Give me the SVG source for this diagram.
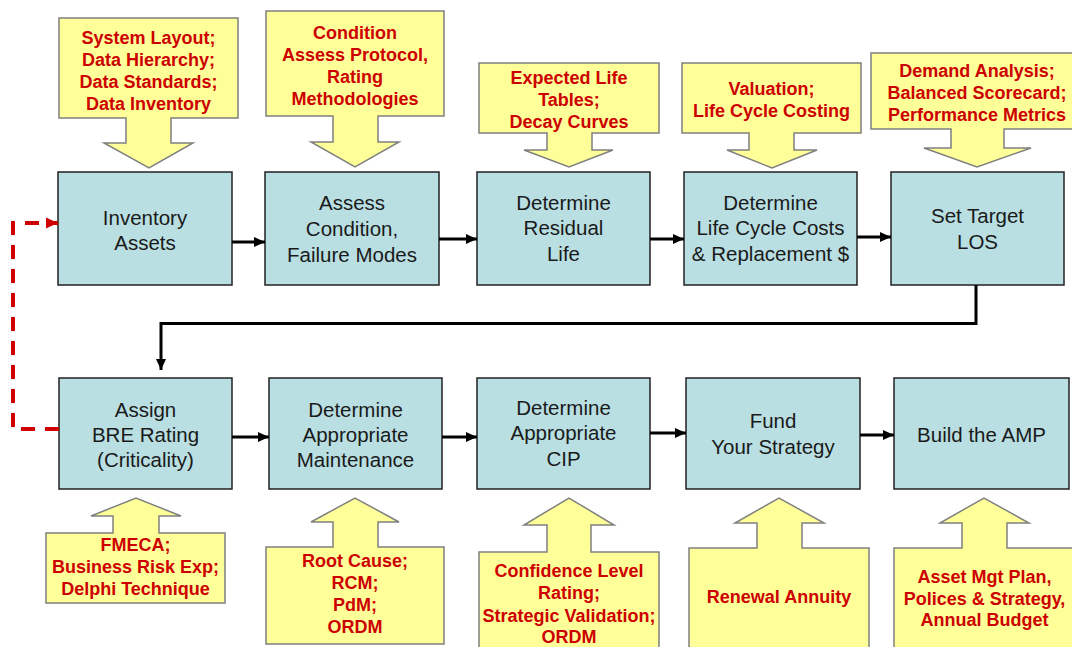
<svg xmlns="http://www.w3.org/2000/svg" width="1072" height="647" viewBox="0 0 1072 647">
<defs>
<style>
.step{fill:#B9DFE2;stroke:#222;stroke-width:1.5}
.inp{fill:#FFFF99;stroke:#808080;stroke-width:1.5}
.st{font-family:"Liberation Sans",Arial,sans-serif;font-size:20.5px;fill:#1a1a1a;text-anchor:middle}
.it{font-family:"Liberation Sans",Arial,sans-serif;font-size:18px;font-weight:bold;fill:#CC0000;text-anchor:middle}
.flow{fill:none;stroke:#000;stroke-width:3}
.loop{fill:none;stroke:#D00000;stroke-width:4;stroke-dasharray:14 10}
</style>
<marker id="ah" markerUnits="userSpaceOnUse" markerWidth="12" markerHeight="12" refX="11" refY="6" orient="auto">
<path d="M0,1 L11,6 L0,11 Z" fill="#000"/>
</marker>
<marker id="ahr" markerUnits="userSpaceOnUse" markerWidth="13" markerHeight="13" refX="12" refY="6.5" orient="auto">
<path d="M0,1 L12,6.5 L0,12 Z" fill="#D00000"/>
</marker>
</defs>
<rect width="1072" height="647" fill="#fff"/>

<!-- input callouts (top) -->
<g id="in1"><path class="inp" d="M59,18 H238 V118 H171 V143 H193 L149,168 L104,143 H126 V118 H59 Z"/>
<text class="it" x="148.5" y="44">System Layout;</text><text class="it" x="148.5" y="66">Data Hierarchy;</text><text class="it" x="148.5" y="88">Data Standards;</text><text class="it" x="148.5" y="110">Data Inventory</text></g>
<g id="in2"><path class="inp" d="M266,11 H444 V116 H378 V142 H399 L355,167 L311,142 H333 V116 H266 Z"/>
<text class="it" x="355" y="39">Condition</text><text class="it" x="355" y="61">Assess Protocol,</text><text class="it" x="355" y="83">Rating</text><text class="it" x="355" y="105">Methodologies</text></g>
<g id="in3"><path class="inp" d="M479,63 H659 V133 H592 V150 H613 L569,167 L524,150 H547 V133 H479 Z"/>
<text class="it" x="569" y="84">Expected Life</text><text class="it" x="569" y="106">Tables;</text><text class="it" x="569" y="128">Decay Curves</text></g>
<g id="in4"><path class="inp" d="M682,63 H861 V133 H794 V150 H817 L772,168 L727,150 H749 V133 H682 Z"/>
<text class="it" x="771.5" y="95">Valuation;</text><text class="it" x="771.5" y="117">Life Cycle Costing</text></g>
<g id="in5"><path class="inp" d="M871,53 H1083 V129 H1004 V148 H1031 L977,167 L924,148 H951 V129 H871 Z"/>
<text class="it" x="977" y="77">Demand Analysis;</text><text class="it" x="977" y="99">Balanced Scorecard;</text><text class="it" x="977" y="121">Performance Metrics</text></g>

<!-- process steps -->
<g id="s1"><rect class="step" x="58" y="172" width="174" height="113"/>
<text class="st" x="145" y="225">Inventory</text><text class="st" x="145" y="250">Assets</text></g>
<g id="s2"><rect class="step" x="265" y="172" width="174" height="113"/>
<text class="st" x="352" y="210">Assess</text><text class="st" x="352" y="236">Condition,</text><text class="st" x="352" y="262">Failure Modes</text></g>
<g id="s3"><rect class="step" x="477" y="172" width="173" height="113"/>
<text class="st" x="563.5" y="210">Determine</text><text class="st" x="563.5" y="235">Residual</text><text class="st" x="563.5" y="261">Life</text></g>
<g id="s4"><rect class="step" x="684" y="172" width="173" height="113"/>
<text class="st" x="770.5" y="210">Determine</text><text class="st" x="770.5" y="235">Life Cycle Costs</text><text class="st" x="770.5" y="261">&amp; Replacement $</text></g>
<g id="s5"><rect class="step" x="891" y="172" width="173" height="113"/>
<text class="st" x="977.5" y="223">Set Target</text><text class="st" x="977.5" y="249">LOS</text></g>

<g id="s6"><rect class="step" x="59" y="378" width="173" height="111"/>
<text class="st" x="145.5" y="417">Assign</text><text class="st" x="145.5" y="442">BRE Rating</text><text class="st" x="145.5" y="467">(Criticality)</text></g>
<g id="s7"><rect class="step" x="269" y="378" width="173" height="111"/>
<text class="st" x="355.5" y="417">Determine</text><text class="st" x="355.5" y="442">Appropriate</text><text class="st" x="355.5" y="467">Maintenance</text></g>
<g id="s8"><rect class="step" x="477" y="378" width="173" height="111"/>
<text class="st" x="563.5" y="415">Determine</text><text class="st" x="563.5" y="440">Appropriate</text><text class="st" x="563.5" y="466">CIP</text></g>
<g id="s9"><rect class="step" x="686" y="378" width="174" height="111"/>
<text class="st" x="773" y="428">Fund</text><text class="st" x="773" y="454">Your Strategy</text></g>
<g id="s10"><rect class="step" x="894" y="378" width="175" height="111"/>
<text class="st" x="981.5" y="442">Build the AMP</text></g>

<!-- input callouts (bottom) -->
<g id="in6"><path class="inp" d="M46,533 H113 V516 H91 L136,498 L181,516 H159 V533 H225 V603 H46 Z"/>
<text class="it" x="135.5" y="551">FMECA;</text><text class="it" x="135.5" y="573">Business Risk Exp;</text><text class="it" x="135.5" y="595">Delphi Technique</text></g>
<g id="in7"><path class="inp" d="M266,547 H333 V522 H311 L355,498 L399,522 H378 V547 H444 V644 H266 Z"/>
<text class="it" x="355" y="567">Root Cause;</text><text class="it" x="355" y="589">RCM;</text><text class="it" x="355" y="611">PdM;</text><text class="it" x="355" y="633">ORDM</text></g>
<g id="in8"><path class="inp" d="M479,552 H547 V525 H524 L569,498 L614,525 H591 V552 H659 V660 H479 Z"/>
<text class="it" x="569" y="577">Confidence Level</text><text class="it" x="569" y="599">Rating;</text><text class="it" x="569" y="622">Strategic Validation;</text><text class="it" x="569" y="643">ORDM</text></g>
<g id="in9"><path class="inp" d="M689,548 H757 V523 H735 L779,498 L824,523 H802 V548 H869 V660 H689 Z"/>
<text class="it" x="779" y="603">Renewal Annuity</text></g>
<g id="in10"><path class="inp" d="M894,548 H962 V523 H940 L984,498 L1029,523 H1007 V548 H1075 V660 H894 Z"/>
<text class="it" x="984.5" y="583">Asset Mgt Plan,</text><text class="it" x="984.5" y="605">Polices &amp; Strategy,</text><text class="it" x="984.5" y="626">Annual Budget</text></g>

<!-- connectors -->
<g id="connectors">
<path class="flow" marker-end="url(#ah)" d="M232,242 H265"/>
<path class="flow" marker-end="url(#ah)" d="M439,239 H477"/>
<path class="flow" marker-end="url(#ah)" d="M650,239 H684"/>
<path class="flow" marker-end="url(#ah)" d="M857,237 H891"/>
<path class="flow" marker-end="url(#ah)" d="M976,285 V323.5 H161 V370"/>
<path class="flow" marker-end="url(#ah)" d="M232,437 H269"/>
<path class="flow" marker-end="url(#ah)" d="M442,437 H477"/>
<path class="flow" marker-end="url(#ah)" d="M650,433 H686"/>
<path class="flow" marker-end="url(#ah)" d="M860,435 H894"/>
<path class="loop" marker-end="url(#ahr)" d="M59,429 H13 V223 H58"/>
</g>
</svg>
